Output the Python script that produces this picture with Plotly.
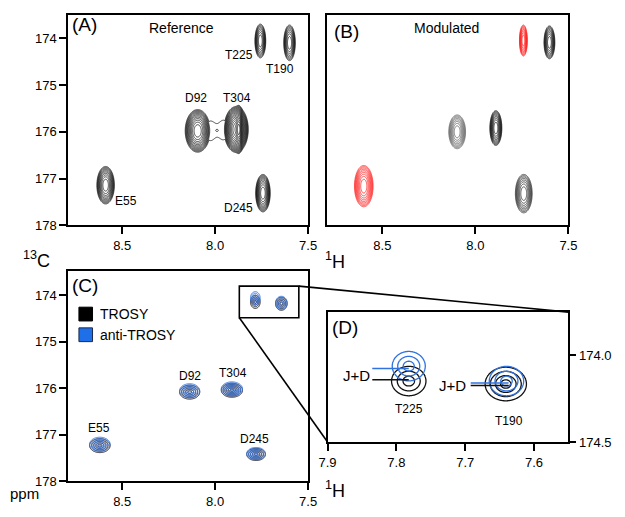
import numpy as np
import plotly.graph_objects as go

W, H = 625, 517
FONT = "Arial, Liberation Sans, sans-serif"

# ---------------- data ----------------
# Panel A (Reference): peak centres (1H, 13C ppm), outer-contour half widths, contour count
A_names = ["T225", "T190", "D92", "T304", "E55", "D245"]
A_h = [7.757, 7.600, 8.094, 7.887, 8.589, 7.743]
A_c = [174.06, 174.10, 175.98, 175.95, 177.14, 177.31]
A_wh = [0.029, 0.031, 0.067, 0.065, 0.047, 0.039]
A_wc = [0.36, 0.38, 0.455, 0.49, 0.40, 0.40]
A_n = [8, 8, 12, 14, 10, 10]
# sharp shoulder on the high-field side of T304 in panel A
T304S_h, T304S_c, T304S_wh, T304S_wc, T304S_n = 7.872, 175.95, 0.02, 0.45, 14
# weak ridge joining D92 and T304 in panel A (centre 1H, 13C, sigma 1H, sigma 13C, amplitude)
RIDGE_h = [8.030, 7.950, 7.990]
RIDGE_c = [175.98, 175.96, 175.97]
RIDGE_sh = [0.033, 0.033, 0.008]
RIDGE_sc = [0.33, 0.33, 0.03]
RIDGE_a = [1.15, 1.15, 0.20]

# Panel B (Modulated)
B_h = [7.742, 7.602, 8.098, 7.890, 8.600, 7.740]
B_c = [174.05, 174.09, 176.00, 175.92, 177.16, 177.32]
B_wh = [0.021, 0.029, 0.045, 0.032, 0.050, 0.045]
B_wc = [0.33, 0.35, 0.36, 0.37, 0.44, 0.41]
B_n = [8, 8, 8, 9, 9, 8]
B_col = ["#ff1f1f", "#111111", "#5c5c5c", "#111111", "#ff1f1f", "#2a2a2a"]

# Panel C (TROSY / anti-TROSY)
C_names = ["T225", "T190", "D92", "T304", "E55", "D245"]
C_h = [7.784, 7.644, 8.137, 7.910, 8.620, 7.780]
C_c_trosy = [174.14, 174.18, 176.08, 176.04, 177.23, 177.42]
C_c_anti = [174.06, 174.16, 176.05, 176.01, 177.20, 177.40]
C_wh = [0.026, 0.031, 0.054, 0.057, 0.055, 0.050]
C_wc = [0.14, 0.14, 0.15, 0.15, 0.15, 0.13]
C_n = [4, 4, 5, 6, 5, 5]

# Panel D (zoom)
D_names = ["T225", "T190"]
D_h_trosy = [7.782, 7.641]
D_c_trosy = [174.148, 174.165]
D_wh_trosy = [0.025, 0.030]
D_wc_trosy = [0.085, 0.097]
D_n_trosy = [3, 4]
D_h_anti = [7.782, 7.640]
D_c_anti = [174.062, 174.148]
D_wh_anti = [0.024, 0.025]
D_wc_anti = [0.085, 0.085]
D_n_anti = [3, 3]
# J+D marker lines
JD_h0 = [7.835, 7.692]
JD_h1 = [7.782, 7.637]
JD_c_anti = [174.076, 174.159]
JD_c_trosy = [174.140, 174.174]

# zoom box in C
ZOOM_H = [7.87, 7.55]
ZOOM_C = [173.80, 174.48]

# axis ticks
H_TICKS = [8.5, 8.0, 7.5]
C_TICKS = [174, 175, 176, 177, 178]
DH_TICKS = [7.9, 7.8, 7.7, 7.6]
DC_TICKS = [174.0, 174.5]

BLUE = "#2f72e0"
LR = 1.25


def px(x):
    return x / W


def py(y):
    return 1 - y / H


def sig(hw, n):
    return hw / np.sqrt(2 * n * np.log(LR))


def contour_trace(xs, ys, z, color, ax, width, nmax):
    return go.Contour(x=np.round(xs, 5), y=np.round(ys, 5), z=np.round(z, 3),
                      xaxis=ax[0], yaxis=ax[1], autocontour=False,
                      contours=dict(start=0, end=nmax, size=1, coloring="lines"),
                      colorscale=[[0, color], [1, color]], showscale=False,
                      line=dict(width=width), hoverinfo="skip")


def gsum(X, Y, comps):
    Z = np.zeros_like(X)
    for (x0, y0, sx, sy, a) in comps:
        Z += a * np.exp(-0.5 * ((X - x0) / sx) ** 2 - 0.5 * ((Y - y0) / sy) ** 2)
    return Z


def grid_trace(comps, xlim, ylim, color, ax, width, nmax, nx=90, ny=90, ridge=None):
    xs = np.linspace(min(xlim), max(xlim), nx)
    ys = np.linspace(min(ylim), max(ylim), ny)
    X, Y = np.meshgrid(xs, ys)
    Z = gsum(X, Y, comps)
    if ridge:
        Z = np.maximum(Z, gsum(X, Y, ridge))
    L = np.log(np.maximum(Z, 1e-3)) / np.log(LR)
    L = np.clip(L, -2, None)
    return contour_trace(xs, ys, L, color, ax, width, nmax)


def ring_trace(h, c, wh, wc, n, color, ax, width, nx=70, ny=70):
    # evenly spaced contour rings (outer ring at the half widths)
    xs = np.linspace(h - 1.3 * wh, h + 1.3 * wh, nx)
    ys = np.linspace(c - 1.3 * wc, c + 1.3 * wc, ny)
    X, Y = np.meshgrid(xs, ys)
    rho = np.sqrt(((X - h) / wh) ** 2 + ((Y - c) / wc) ** 2)
    Z = np.clip(n * (1 - rho), -2, None)
    return contour_trace(xs, ys, Z, color, ax, width, n - 0.5)


def peak_comp(h, c, wh, wc, n):
    return (h, c, sig(wh, n), sig(wc, n), LR ** n)


traces = []
# ---- panel A ----
for i, nm in enumerate(A_names):
    if nm in ("D92", "T304"):
        continue
    comp = peak_comp(A_h[i], A_c[i], A_wh[i], A_wc[i], A_n[i])
    traces.append(grid_trace([comp], (A_h[i] - 1.3 * A_wh[i], A_h[i] + 1.3 * A_wh[i]),
                             (A_c[i] - 1.3 * A_wc[i], A_c[i] + 1.3 * A_wc[i]),
                             "black", ("x", "y"), 0.7, A_n[i]))
iD, iT = A_names.index("D92"), A_names.index("T304")
comps = [peak_comp(A_h[i], A_c[i], A_wh[i], A_wc[i], A_n[i]) for i in (iD, iT)]
comps.append(peak_comp(T304S_h, T304S_c, T304S_wh, T304S_wc, T304S_n))
ridge = list(zip(RIDGE_h, RIDGE_c, RIDGE_sh, RIDGE_sc, RIDGE_a))
traces.append(grid_trace(comps, (A_h[iT] - 1.3 * A_wh[iT], A_h[iD] + 1.3 * A_wh[iD]),
                         (175.3, 176.6), "black", ("x", "y"), 0.7, 24,
                         nx=170, ny=130, ridge=ridge))

# ---- panel B ----
for i in range(len(B_h)):
    comp = peak_comp(B_h[i], B_c[i], B_wh[i], B_wc[i], B_n[i])
    traces.append(grid_trace([comp], (B_h[i] - 1.3 * B_wh[i], B_h[i] + 1.3 * B_wh[i]),
                             (B_c[i] - 1.3 * B_wc[i], B_c[i] + 1.3 * B_wc[i]),
                             B_col[i], ("x2", "y2"), 0.8, B_n[i]))

# ---- panel C ----
for cc, col in ((C_c_trosy, "#1a1a2a"), (C_c_anti, BLUE)):
    for i in range(len(C_h)):
        traces.append(ring_trace(C_h[i], cc[i], C_wh[i], C_wc[i], C_n[i], col,
                                 ("x3", "y3"), 1.0))

# ---- panel D ----
for hh, cc, wh, wc, nn, col in ((D_h_trosy, D_c_trosy, D_wh_trosy, D_wc_trosy, D_n_trosy, "#111111"),
                                (D_h_anti, D_c_anti, D_wh_anti, D_wc_anti, D_n_anti, BLUE)):
    for i in range(len(hh)):
        traces.append(ring_trace(hh[i], cc[i], wh[i], wc[i], nn[i], col, ("x4", "y4"), 1.3))
for i in range(len(JD_h0)):
    traces.append(go.Scatter(x=[JD_h0[i], JD_h1[i]], y=[JD_c_anti[i]] * 2, mode="lines",
                             line=dict(color=BLUE, width=1.5), xaxis="x4", yaxis="y4",
                             hoverinfo="skip"))
    traces.append(go.Scatter(x=[JD_h0[i], JD_h1[i]], y=[JD_c_trosy[i]] * 2, mode="lines",
                             line=dict(color="#111111", width=1.5), xaxis="x4", yaxis="y4",
                             hoverinfo="skip"))

fig = go.Figure(traces)

# ---------------- axes ----------------
domA_x = [px(61), px(308)]
domB_x = [px(327), px(576)]
domTop_y = [py(229), py(15)]
domC_y = [py(489), py(275)]
domD_x = [px(328), px(576)]
domD_y = [py(449), py(317)]
rngH = [8.79, 7.5]
rngHB = [8.80, 7.5]
rngC = [178, 173.5]
rngCC = [178, 173.47]
rngDH = [7.9, 7.55]
rngDC = [174.5, 173.75]

base = dict(showline=True, linecolor="black", linewidth=2, mirror=True, ticks="outside",
            ticklen=7, tickwidth=1.5, tickcolor="black", showgrid=False, zeroline=False,
            tickfont=dict(size=13, color="black", family=FONT), fixedrange=True)


def hax(dom, rng, anchor, vals, fmt):
    return dict(base, domain=dom, range=rng, anchor=anchor, tickmode="array",
                tickvals=vals, ticktext=[fmt.format(v) for v in vals])


fig.update_layout(
    xaxis=hax(domA_x, rngH, "y", H_TICKS, "{:.1f}"),
    yaxis=hax(domTop_y, rngC, "x", C_TICKS, "{:d}"),
    xaxis2=hax(domB_x, rngHB, "y2", H_TICKS, "{:.1f}"),
    yaxis2=dict(base, domain=domTop_y, range=rngC, anchor="x2", ticks="", showticklabels=False),
    xaxis3=hax(domA_x, rngH, "y3", H_TICKS, "{:.1f}"),
    yaxis3=hax(domC_y, rngCC, "x3", C_TICKS, "{:d}"),
    xaxis4=hax(domD_x, rngDH, "y4", DH_TICKS, "{:.1f}"),
    yaxis4=dict(hax(domD_y, rngDC, "x4", DC_TICKS, "{:.1f}"), side="right", ticklen=6),
)


def d2p(v, dom, rng):
    return dom[0] + (v - rng[0]) / (rng[1] - rng[0]) * (dom[1] - dom[0])


shapes = []
# zoom box in panel C
shapes.append(dict(type="rect", xref="x3", yref="y3", x0=ZOOM_H[0], x1=ZOOM_H[1],
                   y0=ZOOM_C[0], y1=ZOOM_C[1], line=dict(color="black", width=1.6)))
# connecting lines to panel D
bx_r = d2p(ZOOM_H[1], domA_x, rngH)
by_t = d2p(ZOOM_C[0], domC_y, rngCC)
bx_l = d2p(ZOOM_H[0], domA_x, rngH)
by_b = d2p(ZOOM_C[1], domC_y, rngCC)
shapes.append(dict(type="line", xref="paper", yref="paper", x0=bx_r, y0=by_t,
                   x1=domD_x[1], y1=domD_y[1], line=dict(color="black", width=1.6)))
shapes.append(dict(type="line", xref="paper", yref="paper", x0=bx_l, y0=by_b,
                   x1=domD_x[0], y1=domD_y[0], line=dict(color="black", width=1.6)))
# legend squares
shapes.append(dict(type="rect", xref="paper", yref="paper", x0=px(72), x1=px(86),
                   y0=py(326), y1=py(312), fillcolor="black", line=dict(color="black", width=1)))
shapes.append(dict(type="rect", xref="paper", yref="paper", x0=px(72), x1=px(86),
                   y0=py(347), y1=py(333), fillcolor="#1f6fe8", line=dict(color="#1a2a4a", width=1)))
fig.update_layout(shapes=shapes)

ann = []


def txt(t, x, y, size, xanchor="center"):
    ann.append(dict(text=t, x=px(x), y=py(y), xref="paper", yref="paper", showarrow=False,
                    xanchor=xanchor, yanchor="middle", borderpad=0,
                    font=dict(size=size, color="black", family=FONT)))


txt("(A)", 78, 25, 19)
txt("Reference", 178, 28, 14)
txt("(B)", 347, 32, 19)
txt("Modulated", 450, 28, 14)
txt("(C)", 78, 290, 19)
txt("(D)", 346, 333, 19)
# panel A labels
for t, x, y in (("T225", 237, 56), ("T190", 279, 70.5), ("D92", 193, 99.5), ("T304", 235, 99.5),
                ("E55", 120.5, 204), ("D245", 236.5, 211.5)):
    txt(t, x, y, 12)
# panel C labels
for t, x, y in (("E55", 92.5, 434.5), ("D92", 186, 381.5), ("T304", 230.5, 378.5),
                ("D245", 252.5, 446)):
    txt(t, x, y, 12)
txt("TROSY", 93, 319, 14, "left")
txt("anti-TROSY", 93, 340, 14, "left")
# panel D labels
txt("J+D", 357.5, 381, 15)
txt("J+D", 456.7, 392, 15)
txt("T225", 411.7, 415, 12)
txt("T190", 515, 428, 12)
# axis titles
txt("<sup>13</sup>C", 13, 264, 18, "left")
txt("<sup>1</sup>H", 324, 265, 18, "left")
txt("<sup>1</sup>H", 324, 497, 18, "left")
txt("ppm", 0, 501, 15, "left")
fig.update_layout(annotations=ann)

fig.update_layout(width=W, height=H, autosize=False, margin=dict(l=0, r=0, t=0, b=0),
                  paper_bgcolor="white", plot_bgcolor="white", showlegend=False)
fig.write_html("out.html", config={"displayModeBar": False},
               post_script="document.body.style.margin='0px';document.body.style.padding='0px';")
